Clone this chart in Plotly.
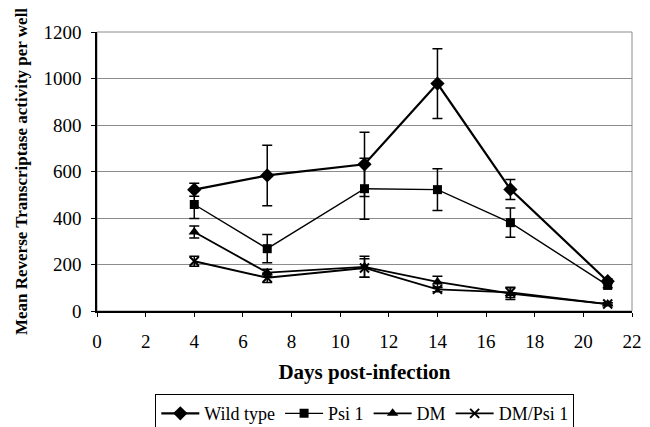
import plotly.graph_objects as go

days = [4, 7, 11, 14, 17, 21]

wild_type = [522, 583, 631, 978, 523, 128]
wild_type_err = [28, 130, 138, 150, 43, 10]

psi1 = [458, 268, 526, 522, 380, 110]
psi1_err = [60, 61, 131, 90, 63, 10]

dm = [340, 165, 190, 125, 75, 30]
dm_err = [26, 15, 45, 25, 25, 5]

dm_psi1 = [214, 143, 185, 93, 80, 30]
dm_psi1_err = [22, 20, 40, 10, 22, 5]

x_ticks = list(range(0, 23, 2))
y_ticks = list(range(0, 1201, 200))

series = [
    ("Wild type", wild_type, wild_type_err, "diamond", 11, 2.2),
    ("Psi 1", psi1, psi1_err, "square", 9, 1.4),
    ("DM", dm, dm_err, "triangle-up", 10, 1.8),
    ("DM/Psi 1", dm_psi1, dm_psi1_err, "x-thin", 9, 1.8),
]

fig = go.Figure()
for name, vals, errs, sym, size, lw in series:
    marker = dict(symbol=sym, size=size, color="black",
                  line=dict(color="black", width=2 if sym == "x-thin" else 0))
    fig.add_trace(go.Scatter(
        x=days, y=vals, name=name, mode="lines+markers",
        line=dict(color="black", width=lw),
        marker=marker,
        error_y=dict(type="data", array=errs, visible=True,
                     color="black", thickness=1.5, width=5),
    ))

FF = "Liberation Serif, Times New Roman, Times, serif"

fig.update_layout(
    width=650, height=427,
    margin=dict(l=97, r=18, t=32, b=116, autoexpand=False),
    paper_bgcolor="white", plot_bgcolor="white",
    font=dict(family=FF, color="black", size=18),
    showlegend=True,
    legend=dict(
        orientation="h", x=0.109, y=-0.298, xanchor="left", yanchor="top",
        bordercolor="black", borderwidth=1, font=dict(size=18, family=FF),
        tracegroupgap=0, itemwidth=38,
    ),
    xaxis=dict(
        range=[0, 22], tickvals=x_ticks, ticks="outside", ticklen=4,
        tickcolor="black", showline=True, linecolor="black", linewidth=1.5,
        mirror=False, showgrid=False, zeroline=False,
        ticklabelstandoff=8,
        title=dict(text="<b>Days post-infection</b>", font=dict(size=21, family=FF), standoff=14),
        tickfont=dict(size=19, family=FF),
    ),
    yaxis=dict(
        range=[0, 1200], tickvals=y_ticks, ticks="outside", ticklen=4,
        tickcolor="black", showline=True, linecolor="black", linewidth=1.5,
        showgrid=True, gridcolor="#8c8c8c", gridwidth=1, zeroline=False,
        ticklabelstandoff=6,
        title=dict(text="<b>Mean Reverse Transcriptase activity per well</b>",
                   font=dict(size=17, family=FF), standoff=12),
        tickfont=dict(size=19, family=FF),
    ),
)

fig.add_shape(type="rect", xref="paper", yref="paper", x0=0, y0=0, x1=1, y1=1,
              line=dict(color="#8c8c8c", width=1), layer="below")

fig.write_html("out.html", config={"displayModeBar": False},
               post_script="document.body.style.margin='0';document.body.style.padding='0';")
